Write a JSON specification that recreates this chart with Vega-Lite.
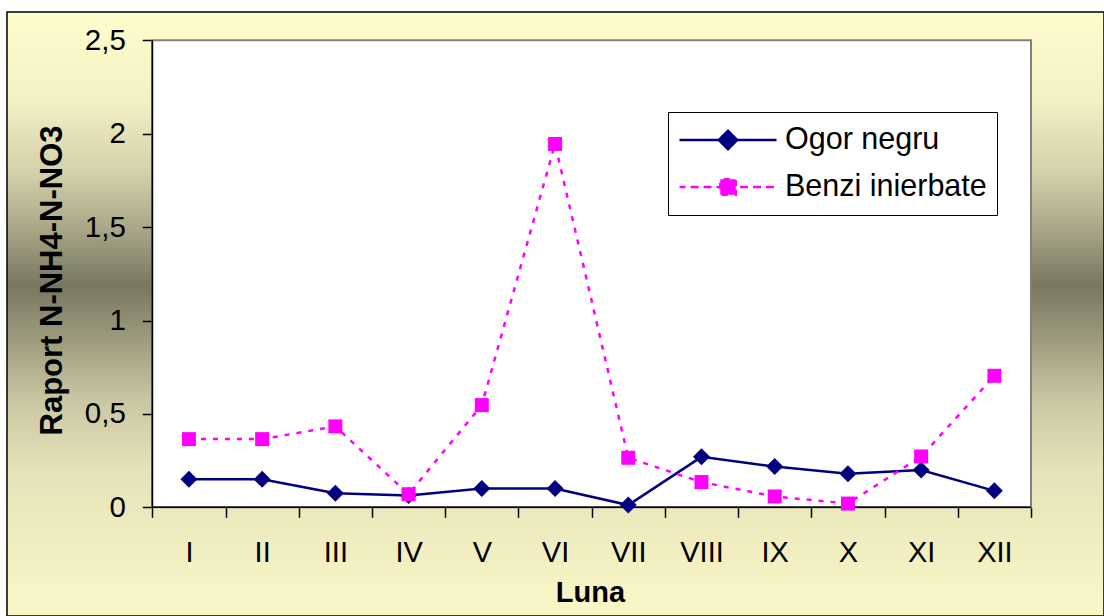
{
  "$schema": "https://vega.github.io/schema/vega-lite/v6.json",
  "width": 1097,
  "height": 604,
  "autosize": {"type": "none"},
  "padding": {"left": 7, "top": 12, "right": 0, "bottom": 0},
  "background": "#ffffff",
  "view": {
    "fill": {
      "gradient": "linear", "x1": 0, "y1": 0, "x2": 0, "y2": 1,
      "stops": [
        {"offset": 0, "color": "#FFFCCC"},
        {"offset": 0.146, "color": "#F3F0C4"},
        {"offset": 0.262, "color": "#D5D2AC"},
        {"offset": 0.361, "color": "#A8A687"},
        {"offset": 0.452, "color": "#78775F"},
        {"offset": 0.543, "color": "#9E9C7E"},
        {"offset": 0.642, "color": "#C9C6A3"},
        {"offset": 0.758, "color": "#E6E3B9"},
        {"offset": 1, "color": "#FAF7C7"}
      ]
    },
    "stroke": "#000000",
    "strokeWidth": 1.5
  },
  "config": {"font": "Liberation Sans"},
  "data": {
    "values": [
      {"month": 1, "series": "Ogor negru", "value": 0.15},
      {"month": 2, "series": "Ogor negru", "value": 0.15},
      {"month": 3, "series": "Ogor negru", "value": 0.075},
      {"month": 4, "series": "Ogor negru", "value": 0.063},
      {"month": 5, "series": "Ogor negru", "value": 0.1},
      {"month": 6, "series": "Ogor negru", "value": 0.1},
      {"month": 7, "series": "Ogor negru", "value": 0.012},
      {"month": 8, "series": "Ogor negru", "value": 0.27},
      {"month": 9, "series": "Ogor negru", "value": 0.218},
      {"month": 10, "series": "Ogor negru", "value": 0.18},
      {"month": 11, "series": "Ogor negru", "value": 0.2},
      {"month": 12, "series": "Ogor negru", "value": 0.088},
      {"month": 1, "series": "Benzi inierbate", "value": 0.365},
      {"month": 2, "series": "Benzi inierbate", "value": 0.365},
      {"month": 3, "series": "Benzi inierbate", "value": 0.433},
      {"month": 4, "series": "Benzi inierbate", "value": 0.07},
      {"month": 5, "series": "Benzi inierbate", "value": 0.547},
      {"month": 6, "series": "Benzi inierbate", "value": 1.945},
      {"month": 7, "series": "Benzi inierbate", "value": 0.265},
      {"month": 8, "series": "Benzi inierbate", "value": 0.135},
      {"month": 9, "series": "Benzi inierbate", "value": 0.058},
      {"month": 10, "series": "Benzi inierbate", "value": 0.02},
      {"month": 11, "series": "Benzi inierbate", "value": 0.272},
      {"month": 12, "series": "Benzi inierbate", "value": 0.704}
    ]
  },
  "layer": [
    {
      "data": {"values": [{}]},
      "mark": {"type": "rect", "fill": "#ffffff", "stroke": "#808080", "strokeWidth": 2},
      "encoding": {
        "x": {"datum": 0.5, "type": "quantitative", "title": "Luna", "scale": {"domain": [-1.4844, 13.497], "nice": false, "zero": false}},
        "x2": {"datum": 12.5},
        "y": {"datum": 0, "type": "quantitative", "title": "Raport N-NH4-N-NO3", "scale": {"domain": [-0.5819, 2.6515], "nice": false, "zero": false}},
        "y2": {"datum": 2.5}
      }
    },
    {
      "data": {"values": [{}]},
      "mark": {"type": "rule", "color": "#000000", "strokeWidth": 1.5},
      "encoding": {
        "x": {"datum": 0.5, "type": "quantitative", "title": "Luna", "scale": {"domain": [-1.4844, 13.497], "nice": false, "zero": false}},
        "y": {"datum": 0, "type": "quantitative", "title": "Raport N-NH4-N-NO3", "scale": {"domain": [-0.5819, 2.6515], "nice": false, "zero": false}},
        "y2": {"datum": 2.5}
      }
    },
    {
      "data": {"values": [{}]},
      "mark": {"type": "rule", "color": "#000000", "strokeWidth": 1.5},
      "encoding": {
        "x": {"datum": 0.5, "type": "quantitative", "title": "Luna", "scale": {"domain": [-1.4844, 13.497], "nice": false, "zero": false}},
        "x2": {"datum": 12.5},
        "y": {"datum": 0, "type": "quantitative", "title": "Raport N-NH4-N-NO3", "scale": {"domain": [-0.5819, 2.6515], "nice": false, "zero": false}}
      }
    },
    {
      "transform": [{"filter": "datum.series === 'Ogor negru'"}],
      "mark": {"type": "line", "strokeWidth": 2.5},
      "encoding": {
        "x": {
          "field": "month", "type": "quantitative", "title": "Luna",
          "scale": {"domain": [-1.4844, 13.497], "nice": false, "zero": false},
          "axis": {
            "values": [0.5, 1, 1.5, 2, 2.5, 3, 3.5, 4, 4.5, 5, 5.5, 6, 6.5, 7, 7.5, 8, 8.5, 9, 9.5, 10, 10.5, 11, 11.5, 12, 12.5],
            "domain": false, "grid": false, "offset": -108.7,
            "tickSize": 10, "tickColor": "#000000", "tickWidth": 1.5,
            "tickOpacity": {"condition": {"test": "datum.value % 1 === 0", "value": 0}, "value": 1},
            "labelExpr": "datum.value % 1 === 0 ? ['I','II','III','IV','V','VI','VII','VIII','IX','X','XI','XII'][datum.value - 1] : ''",
            "labelFont": "Liberation Sans", "labelFontSize": 29, "labelColor": "#000000",
            "labelPadding": 21, "labelFlush": false, "labelOverlap": false,
            "titleFont": "Liberation Sans", "titleFontSize": 29, "titleFontWeight": "bold", "titleColor": "#000000",
            "titleX": 583, "titlePadding": 11
          }
        },
        "y": {
          "field": "value", "type": "quantitative", "title": "Raport N-NH4-N-NO3",
          "scale": {"domain": [-0.5819, 2.6515], "nice": false, "zero": false},
          "axis": {
            "values": [0, 0.5, 1, 1.5, 2, 2.5],
            "domain": false, "grid": false, "offset": -145.3,
            "tickSize": 10, "tickColor": "#000000", "tickWidth": 1.5,
            "labelExpr": "replace(toString(datum.value), '.', ',')",
            "labelFont": "Liberation Sans", "labelFontSize": 29.5, "labelColor": "#000000",
            "labelPadding": 17, "labelFlush": false, "labelOverlap": false,
            "titleFont": "Liberation Sans", "titleFontSize": 31, "titleFontWeight": "bold", "titleColor": "#000000",
            "titleY": 268, "titlePadding": 16
          }
        },
        "color": {
          "field": "series", "type": "nominal",
          "scale": {"domain": ["Ogor negru", "Benzi inierbate"], "range": ["#000080", "#FF00FF"]},
          "legend": {
            "title": null, "orient": "none", "legendX": 661, "legendY": 100,
            "fillColor": "#ffffff", "strokeColor": "#000000", "padding": 10,
            "symbolSize": 9409, "symbolStrokeWidth": 2.5,
            "labelFont": "Liberation Sans", "labelFontSize": 30.5, "labelColor": "#000000",
            "labelLimit": 400, "labelOffset": 7, "clipHeight": 36, "rowPadding": 11,
            "encode": {
              "symbols": {
                "update": {
                  "shape": {"signal": "datum.value === 'Ogor negru' ? 'M-1,0L-0.19,0L0,-0.19L0.19,0L1,0L0.19,0L0,0.19L-0.19,0Z' : 'M-1,0L-0.16,0L-0.16,-0.16L0.16,-0.16L0.16,0L1,0L0.16,0L0.16,0.16L-0.16,0.16L-0.16,0Z'"},
                  "size": {"value": 9409},
                  "fill": {"signal": "datum.value === 'Ogor negru' ? '#000080' : '#FF00FF'"},
                  "stroke": {"signal": "datum.value === 'Ogor negru' ? '#000080' : '#FF00FF'"},
                  "strokeDash": {"signal": "datum.value === 'Ogor negru' ? [1,0] : [6,7]"},
                  "strokeWidth": {"value": 2.5},
                  "opacity": {"value": 1}
                }
              }
            }
          }
        }
      }
    },
    {
      "transform": [{"filter": "datum.series === 'Ogor negru'"}],
      "mark": {"type": "point", "filled": true, "opacity": 1, "shape": "diamond", "size": 289},
      "encoding": {
        "x": {"field": "month", "type": "quantitative", "title": "Luna", "scale": {"domain": [-1.4844, 13.497], "nice": false, "zero": false}},
        "y": {"field": "value", "type": "quantitative", "title": "Raport N-NH4-N-NO3", "scale": {"domain": [-0.5819, 2.6515], "nice": false, "zero": false}},
        "color": {
          "field": "series", "type": "nominal",
          "scale": {"domain": ["Ogor negru", "Benzi inierbate"], "range": ["#000080", "#FF00FF"]}
        }
      }
    },
    {
      "transform": [{"filter": "datum.series === 'Benzi inierbate'"}],
      "mark": {"type": "line", "strokeWidth": 2.5, "strokeDash": [5, 7]},
      "encoding": {
        "x": {"field": "month", "type": "quantitative", "title": "Luna", "scale": {"domain": [-1.4844, 13.497], "nice": false, "zero": false}},
        "y": {"field": "value", "type": "quantitative", "title": "Raport N-NH4-N-NO3", "scale": {"domain": [-0.5819, 2.6515], "nice": false, "zero": false}},
        "color": {
          "field": "series", "type": "nominal",
          "scale": {"domain": ["Ogor negru", "Benzi inierbate"], "range": ["#000080", "#FF00FF"]}
        }
      }
    },
    {
      "transform": [{"filter": "datum.series === 'Benzi inierbate'"}],
      "mark": {"type": "point", "filled": true, "opacity": 1, "shape": "square", "size": 196},
      "encoding": {
        "x": {"field": "month", "type": "quantitative", "title": "Luna", "scale": {"domain": [-1.4844, 13.497], "nice": false, "zero": false}},
        "y": {"field": "value", "type": "quantitative", "title": "Raport N-NH4-N-NO3", "scale": {"domain": [-0.5819, 2.6515], "nice": false, "zero": false}},
        "color": {
          "field": "series", "type": "nominal",
          "scale": {"domain": ["Ogor negru", "Benzi inierbate"], "range": ["#000080", "#FF00FF"]}
        }
      }
    }
  ]
}
